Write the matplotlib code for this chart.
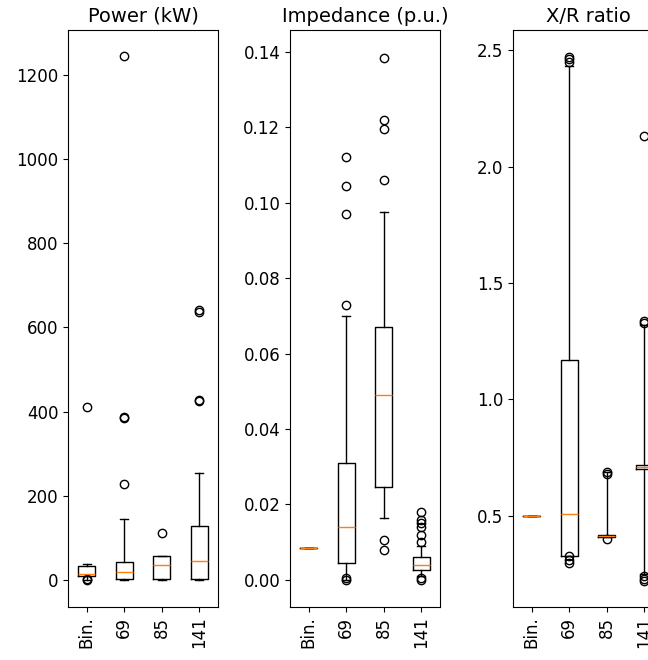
import matplotlib.pyplot as plt

labels = ["Bin.", "69", "85", "141"]

# (whislo, q1, med, q3, whishi, fliers)
power = [
    (0, 10, 15, 33, 38, [0, 2, 410]),
    (0, 2, 20, 42, 145, [228, 385, 388, 1245]),
    (0, 2, 35, 58, 58, [112]),
    (0, 2, 45, 128, 255, [425, 428, 637, 640]),
]
impedance = [
    (0.0085, 0.0085, 0.0085, 0.0085, 0.0085, []),
    (0.0, 0.0045, 0.014, 0.031, 0.070, [0.0, 0.0005, 0.073, 0.097, 0.1045, 0.112]),
    (0.0165, 0.0245, 0.049, 0.067, 0.0975, [0.008, 0.0105, 0.106, 0.1195, 0.122, 0.1385]),
    (0.001, 0.0025, 0.004, 0.006, 0.009, [0.0, 0.0005, 0.01, 0.012, 0.014, 0.015, 0.016, 0.018]),
]
xr = [
    (0.5, 0.5, 0.5, 0.5, 0.5, []),
    (0.33, 0.33, 0.51, 1.17, 2.43, [0.30, 0.31, 0.33, 2.45, 2.46, 2.47]),
    (0.41, 0.41, 0.415, 0.42, 0.69, [0.40, 0.68, 0.69]),
    (0.25, 0.70, 0.71, 0.72, 1.32, [0.22, 0.23, 0.24, 1.33, 1.335, 2.13]),
]

titles = ["Power (kW)", "Impedance (p.u.)", "X/R ratio"]
ylims = [(-64, 1306), (-0.0072, 0.1458), (0.109, 2.586)]
lefts = [68, 290, 513]

fig = plt.figure(figsize=(6.48, 6.6), dpi=100)
for data, title, yl, left in zip([power, impedance, xr], titles, ylims, lefts):
    ax = fig.add_axes([left / 648, 53 / 660, 150 / 648, 577 / 660])
    stats = []
    for lab, (lo, q1, med, q3, hi, fl) in zip(labels, data):
        stats.append(dict(label=lab, whislo=lo, q1=q1, med=med, q3=q3, whishi=hi, fliers=fl))
    ax.bxp(stats, showfliers=True)
    ax.set_ylim(*yl)
    ax.set_title(title, fontsize=14)
    ax.tick_params(axis="y", labelsize=12)
    ax.tick_params(axis="x", labelsize=12, labelrotation=90)

fig.savefig("out.png", dpi=100)
